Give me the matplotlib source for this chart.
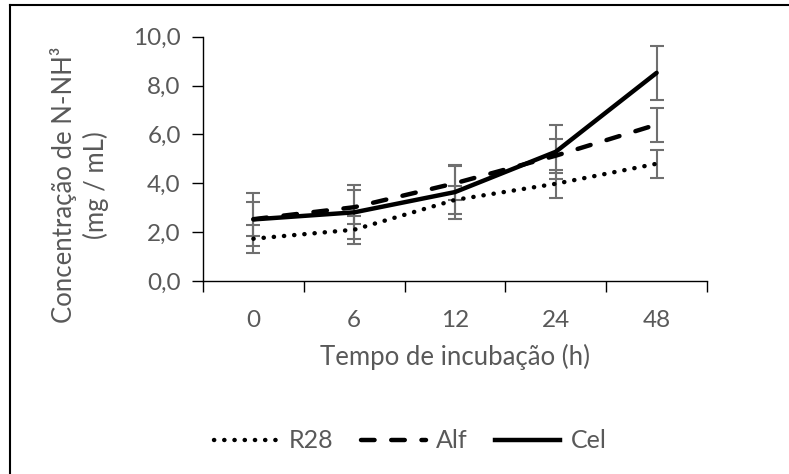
import numpy as np
import matplotlib
matplotlib.use('Agg')
import matplotlib.pyplot as plt
from matplotlib.lines import Line2D

# data
categories = ['0', '6', '12', '24', '48']
r28 = [1.73, 2.10, 3.32, 3.98, 4.80]
alf = [2.53, 3.02, 4.00, 5.13, 6.40]
cel = [2.52, 2.81, 3.64, 5.29, 8.52]
r28_err = [0.57, 0.57, 0.57, 0.57, 0.57]
alf_err = [0.70, 0.70, 0.70, 0.70, 0.70]
cel_err = [1.10, 1.10, 1.10, 1.10, 1.10]
y_ticks = [0, 2, 4, 6, 8, 10]

plt.rcParams['font.family'] = ['Lato', 'DejaVu Sans']
grey = '#595959'
fs = 17.5     # tick labels
fs_title = 18.5
fs_leg = 18

fig = plt.figure(figsize=(7.89, 4.74), dpi=100)
ax = fig.add_axes([0.2573, 0.4072, 0.6388, 0.5154])

x = np.arange(len(categories))
series = [
    ('R28', r28, r28_err, (0, (0.05, 2.25))),
    ('Alf', alf, alf_err, (0, (3.05, 3.75))),
    ('Cel', cel, cel_err, '-'),
]
handles = []
for name, vals, err, ls in series:
    ax.errorbar(x, vals, yerr=err, fmt='none', ecolor='#6f6f6f', elinewidth=1.5,
                capsize=5, capthick=1.5, zorder=2)
    ax.plot(x, vals, color='black', linewidth=3.2, linestyle=ls,
            dash_capstyle='round', solid_capstyle='round', zorder=3)
    handles.append(Line2D([], [], color='black', linewidth=3.2, linestyle=ls,
                          dash_capstyle='round'))

ax.set_xlim(-0.5, len(categories) - 0.5)
ax.set_ylim(0, 10)
ax.set_yticks(y_ticks)
ax.set_yticklabels([f'{v:.1f}'.replace('.', ',') for v in y_ticks])
ax.set_xticks(x)
ax.set_xticklabels(categories)
ax.set_xticks(np.arange(-0.5, len(categories)), minor=True)
ax.tick_params(axis='x', which='major', length=0, pad=21, labelsize=fs, labelcolor=grey)
ax.tick_params(axis='x', which='minor', length=8, width=1, direction='out', color='black')
ax.tick_params(axis='y', length=8, width=1, direction='out', pad=8, labelsize=fs,
               labelcolor=grey, color='black')

for s in ['top', 'right']:
    ax.spines[s].set_visible(False)
for s in ['left', 'bottom']:
    ax.spines[s].set_color('black')
    ax.spines[s].set_linewidth(1)

ax.set_xlabel('Tempo de incubação (h)', fontsize=fs_title, color=grey, labelpad=9)
fig.text(0.101, 0.61, 'Concentração de N-NH³\n(mg / mL)', rotation=90, ha='center',
         va='center', multialignment='center', fontsize=fs_title, color=grey,
         linespacing=1.25)

fig.legend(handles, ['R28', 'Alf', 'Cel'], loc='center', bbox_to_anchor=(0.52, 0.07),
           ncol=3, frameon=False, fontsize=fs_leg, labelcolor=grey, handlelength=2.6,
           handletextpad=0.4, columnspacing=1.1)

# chart frame edges (left and top visible)
fig.add_artist(Line2D([10 / 789, 10 / 789], [0, 1 - 5 / 474], color='black', linewidth=1.5,
                      transform=fig.transFigure))
fig.add_artist(Line2D([10 / 789, 1], [1 - 5 / 474, 1 - 5 / 474], color='black', linewidth=1.5,
                      transform=fig.transFigure))

fig.savefig('out.png', dpi=100)
